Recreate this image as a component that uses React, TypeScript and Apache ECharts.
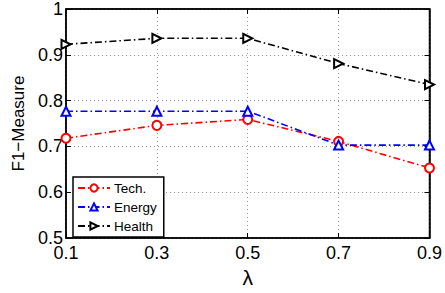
import React, { useEffect, useRef } from "react";
import * as echarts from "echarts";

const lambdas = ["0.1", "0.3", "0.5", "0.7", "0.9"];
const tech = [0.718, 0.746, 0.759, 0.711, 0.653];
const energy = [0.777, 0.777, 0.777, 0.703, 0.703];
const health = [0.923, 0.936, 0.936, 0.881, 0.835];
const seriesNames = ["Tech.", "Energy", "Health"];

const FONT = "Liberation Sans, Arial, Helvetica, sans-serif";
const dashDot = [7, 3, 1.5, 3];

export default function App() {
  const ref = useRef<HTMLDivElement>(null);
  useEffect(() => {
    if (!ref.current) return;
    const chart = echarts.init(ref.current, undefined, { renderer: "svg" });
    const mk = (name: string, data: number[], color: string, symbol: string, rot: number) => ({
      name,
      type: "line",
      data,
      symbol,
      symbolSize: 9,
      symbolRotate: rot,
      showAllSymbol: true,
      lineStyle: { color, width: 1.6, type: dashDot },
      itemStyle: { color, borderColor: color, borderWidth: 1.6 },
      z: 5,
    });
    chart.setOption({
      animation: false,
      textStyle: { fontFamily: FONT },
      grid: {
        left: 66,
        right: 15,
        top: 7,
        bottom: 50,
        show: true,
        borderColor: "#000",
        borderWidth: 1.5,
        backgroundColor: "transparent",
      },
      legend: {
        orient: "vertical",
        left: 73,
        top: 177,
        data: seriesNames,
        borderColor: "#000",
        borderWidth: 1.5,
        padding: [4, 7, 4, 4],
        itemWidth: 32,
        itemHeight: 9,
        itemGap: 5,
        textStyle: { fontSize: 13.5, color: "#000", fontFamily: FONT, padding: [0, 0, 0, -1] },
        backgroundColor: "#fff",
      },
      xAxis: [
        {
          type: "category",
          data: lambdas,
          boundaryGap: false,
          name: "λ",
          nameLocation: "middle",
          nameGap: 27,
          nameTextStyle: { fontSize: 21, color: "#000", fontFamily: FONT },
          axisLine: { show: true, lineStyle: { color: "#000", width: 1.5 } },
          axisTick: { show: true, inside: true, length: 5, lineStyle: { color: "#000" } },
          axisLabel: { fontSize: 18, color: "#000", margin: 6, fontFamily: FONT },
          splitLine: { show: true, lineStyle: { color: "#999", type: [1, 3], width: 1 } },
        },
        {
          type: "category",
          data: lambdas,
          boundaryGap: false,
          position: "top",
          axisLine: { show: true, lineStyle: { color: "#000", width: 1.5 } },
          axisTick: { show: true, inside: true, length: 5, lineStyle: { color: "#000" } },
          axisLabel: { show: false },
          splitLine: { show: false },
        },
      ],
      yAxis: [
        {
          type: "value",
          min: 0.5,
          max: 1,
          interval: 0.1,
          name: "F1−Measure",
          nameLocation: "middle",
          nameGap: 35,
          nameTextStyle: { fontSize: 17, color: "#000", fontFamily: FONT },
          axisLine: { show: true, lineStyle: { color: "#000", width: 1.5 } },
          axisTick: { show: true, inside: true, length: 5, lineStyle: { color: "#000" } },
          axisLabel: {
            fontSize: 18,
            color: "#000",
            margin: 3,
            fontFamily: FONT,
            formatter: (v: number) => (Math.abs(v - 1) < 1e-9 ? "1" : v.toFixed(1)),
          },
          splitLine: { show: true, lineStyle: { color: "#999", type: [1, 3], width: 1 } },
        },
        {
          type: "value",
          min: 0.5,
          max: 1,
          interval: 0.1,
          position: "right",
          axisLine: { show: true, lineStyle: { color: "#000", width: 1.5 } },
          axisTick: { show: true, inside: true, length: 5, lineStyle: { color: "#000" } },
          axisLabel: { show: false },
          splitLine: { show: false },
        },
      ],
      series: [
        mk(seriesNames[0], tech, "#ff0000", "emptyCircle", 0),
        mk(seriesNames[1], energy, "#0000ff", "emptyTriangle", 0),
        mk(seriesNames[2], health, "#000000", "emptyTriangle", -90),
      ],
    });
    return () => chart.dispose();
  }, []);
  return <div ref={ref} style={{ width: 445, height: 293, position: "absolute", left: 0, top: 0, background: "#fff" }} />;
}
